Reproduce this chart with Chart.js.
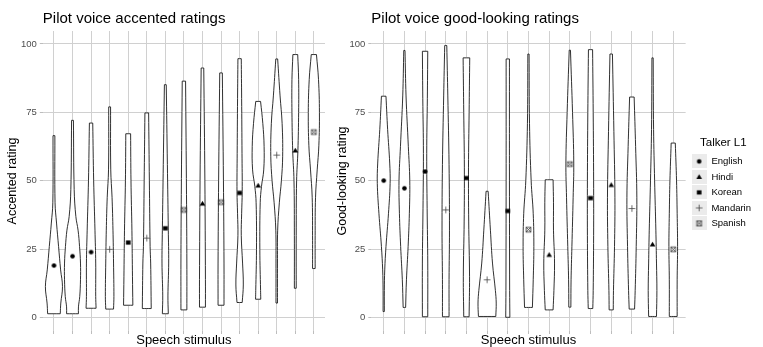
<!DOCTYPE html>
<html>
<head>
<meta charset="utf-8">
<script src="https://cdn.jsdelivr.net/npm/chart.js@4.4.1/dist/chart.umd.min.js"></script>
<style>
  html, body { margin: 0; padding: 0; background: #fff; }
  #wrap { position: relative; width: 763px; height: 347px; overflow: hidden; background: #fff; }
  canvas { position: absolute; top: 0; }
  #accentedChart { left: 0; }
  #goodLookingChart { left: 330px; }
</style>
</head>
<body>
<div id="wrap">
  <canvas id="accentedChart" width="330" height="347"></canvas>
  <canvas id="goodLookingChart" width="433" height="347"></canvas>
</div>
<script>
// Speech stimuli (x positions), rating ticks and talker groups
const stimulusPositions = [1, 2, 3, 4, 5, 6, 7, 8, 9, 10, 11, 12, 13, 14, 15];
const ratingTicks = [0, 25, 50, 75, 100];
const talkerL1 = ['English', 'Hindi', 'Korean', 'Mandarin', 'Spanish'];

// Accented ratings: mean per stimulus, talker L1, violin profile [rating, half width]
const accentedMeans = [19.1, 22.5, 24.0, 25.0, 27.5, 29.1, 32.7, 39.4, 41.7, 42.2, 45.6, 48.3, 59.4, 61.1, 67.8];
const accentedTalkers = ['English', 'English', 'English', 'Mandarin', 'Korean', 'Mandarin', 'Korean', 'Spanish',
    'Hindi', 'Spanish', 'Korean', 'Hindi', 'Mandarin', 'Hindi', 'Spanish'];
const accentedProfiles = [
    [[66.5, .05], [42, .06], [34.6, .14], [26, .25], [17.5, .36], [11.4, .46], [5.4, .37], [1.5, .34]],
    [[72.1, .05], [46.8, .09], [37, .18], [32, .3], [26, .38], [20, .43], [13.9, .43], [7.8, .39], [4, .32], [1.5, .32]],
    [[71.1, .09], [50, .14], [32, .21], [20, .25], [7.8, .25], [3.5, .27]],
    [[77, .05], [54, .06], [44, .13], [32, .18], [20, .21], [7.8, .23], [3.2, .21]],
    [[67.2, .13], [50, .15], [32, .2], [15, .23], [4.6, .25]],
    [[74.8, .1], [50, .14], [26, .18], [20, .21], [3.4, .24]],
    [[85.1, .05], [56, .11], [32, .16], [20, .18], [8, .14], [1.5, .16]],
    [[86.4, .09], [45, .14], [20, .16], [2.9, .16]],
    [[91.2, .07], [50, .13], [14, .16], [3.9, .16]],
    [[89.4, .07], [50, .13], [20, .16], [4.6, .16]],
    [[94.6, .09], [80, .11], [60, .13], [46, .14], [38, .11], [30, .09], [20, .16], [12, .2], [5.6, .14]],
    [[79, .13], [71, .25], [62.6, .32], [54, .3], [48, .18], [42, .11], [25, .09], [10, .13], [6.8, .14]],
    [[94.5, .05], [81, .18], [71, .29], [59, .32], [50, .25], [42, .14], [32, .05], [20, .04], [5.4, .04]],
    [[96.1, .13], [87, .18], [75, .18], [61, .14], [50, .07], [30, .05], [10.8, .05]],
    [[96.1, .14], [87, .25], [75, .3], [63, .27], [54, .18], [44, .09], [30, .07], [18, .07]]
];

// Good-looking ratings
const goodMeans = [50.1, 47.3, 53.4, 39.4, 51.0, 13.9, 39.0, 32.2, 23.0, 56.1, 43.7, 48.5, 39.9, 26.8, 25.0];
const goodTalkers = ['English', 'English', 'English', 'Mandarin', 'Korean', 'Mandarin', 'Korean', 'Spanish',
    'Hindi', 'Spanish', 'Korean', 'Hindi', 'Mandarin', 'Hindi', 'Spanish'];
const goodProfiles = [
    [[80.9, .11], [68.7, .19], [56.5, .29], [49, .31], [38, .23], [26, .11], [17.5, .05], [10, .03], [2.3, .03]],
    [[97.6, .03], [81, .08], [62.6, .19], [50, .26], [38, .24], [26, .18], [13.9, .1], [3.8, .06]],
    [[97.3, .13], [80, .11], [60, .08], [40, .1], [20, .13], [0.4, .13]],
    [[99.4, .05], [81, .1], [56, .16], [32, .18], [14, .16], [0.4, .16]],
    [[94.9, .16], [75, .13], [55, .1], [35, .11], [15, .15], [0.4, .13]],
    [[46.2, .05], [32, .16], [20, .26], [10, .4], [5.4, .44], [0.5, .42]],
    [[94.5, .08], [50, .08], [10, .09], [0.2, .1]],
    [[96.3, .03], [71, .05], [50, .13], [38, .23], [26, .26], [13.9, .23], [3.8, .19]],
    [[50.4, .19], [42, .21], [32, .21], [20, .26], [10, .23], [2.9, .19]],
    [[97.7, .03], [75, .13], [56.5, .19], [44, .16], [26, .1], [13.9, .06], [3.9, .05]],
    [[97.9, .1], [75, .13], [50, .15], [30, .15], [10, .13], [3.4, .11]],
    [[96.3, .06], [68, .13], [44, .18], [26, .16], [10, .11], [2.9, .1]],
    [[80.6, .11], [62.6, .18], [44, .24], [26, .21], [10, .16], [3.2, .13]],
    [[94.9, .03], [68.7, .05], [50, .1], [32, .16], [20, .19], [10, .21], [0.5, .19]],
    [[63.8, .1], [50, .16], [38, .19], [26, .21], [13.9, .19], [0.5, .19]]
];

Chart.defaults.font.family = '"Liberation Sans", Arial, sans-serif';

// marker glyphs (ggplot shapes 16, 17, 15, 3, 7)
function markerIcon(talker, w, h, bg) {
    const c = document.createElement('canvas');
    c.width = w;
    c.height = h;
    const g = c.getContext('2d');
    if (bg) {
        g.fillStyle = bg;
        g.fillRect(0, 0, w, h);
    }
    const cx = w / 2, cy = h / 2;
    g.fillStyle = '#000';
    if (talker === 'English') {
        g.beginPath();
        g.arc(cx, cy, 2.3, 0, Math.PI * 2);
        g.fill();
    } else if (talker === 'Hindi') {
        g.beginPath();
        g.moveTo(cx, cy - 2.7);
        g.lineTo(cx + 2.8, cy + 2);
        g.lineTo(cx - 2.8, cy + 2);
        g.closePath();
        g.fill();
    } else if (talker === 'Korean') {
        g.fillRect(cx - 2.3, cy - 2.1, 4.6, 4.2);
    } else if (talker === 'Mandarin') {
        g.strokeStyle = '#444';
        g.lineWidth = 0.8;
        g.beginPath();
        g.moveTo(cx - 3.3, cy); g.lineTo(cx + 3.3, cy);
        g.moveTo(cx, cy - 3.3); g.lineTo(cx, cy + 3.3);
        g.stroke();
    } else {
        g.strokeStyle = '#333';
        g.lineWidth = 0.8;
        g.strokeRect(cx - 2.4, cy - 2.4, 4.8, 4.8);
        g.beginPath();
        g.moveTo(cx - 2.4, cy - 2.4); g.lineTo(cx + 2.4, cy + 2.4);
        g.moveTo(cx + 2.4, cy - 2.4); g.lineTo(cx - 2.4, cy + 2.4);
        g.stroke();
    }
    return c;
}

const pointIcons = talkerL1.map(t => markerIcon(t, 9, 9));
const legendIcons = talkerL1.map(t => markerIcon(t, 15, 14, '#ebebeb'));

// closed outline; the four corners are repeated so the flat ends stay flat
function violinPoints(pos, profile) {
    const last = profile.length - 1;
    const pts = [];
    const add = (x, y, twice) => {
        pts.push({x, y});
        if (twice) pts.push({x, y});
    };
    add(pos - profile[0][1], profile[0][0], true);
    profile.forEach(([v, w], k) => add(pos + w, v, k === 0 || k === last));
    for (let k = last; k >= 0; k--) {
        add(pos - profile[k][1], profile[k][0], k === last);
    }
    return pts;
}

function buildDatasets(means, talkers, profiles) {
    const sets = talkerL1.map((t, i) => ({
        label: t,
        data: stimulusPositions
            .filter((p, k) => talkers[k] === t)
            .map(p => ({x: p, y: means[p - 1]})),
        pointStyle: pointIcons[i],
        pointRadius: 3,
        showLine: false,
        order: 0
    }));
    profiles.forEach((prof, k) => {
        sets.push({
            label: 'violin' + stimulusPositions[k],
            data: violinPoints(stimulusPositions[k], prof),
            showLine: true,
            fill: 'shape',
            backgroundColor: '#fff',
            borderColor: '#1a1a1a',
            borderWidth: 0.9,
            pointRadius: 0,
            tension: 0.4,
            order: 1
        });
    });
    return sets;
}

const gridStyle = {color: '#d0d0d0', lineWidth: 1, tickLength: 3, tickColor: '#bdbdbd'};

function panelOptions(title, yTitle, axisWidth, padRight, showLegend) {
    return {
        responsive: false,
        animation: false,
        events: [],
        layout: {padding: {left: 0, right: padRight, top: 0, bottom: 0}},
        scales: {
            x: {
                type: 'linear',
                min: 0.4,
                max: 15.6,
                afterBuildTicks: s => { s.ticks = stimulusPositions.map(v => ({value: v})); },
                ticks: {display: false},
                grid: gridStyle,
                border: {display: false},
                title: {display: true, text: 'Speech stimulus', color: '#000', font: {size: 13, lineHeight: 1}, padding: 0}
            },
            y: {
                type: 'linear',
                min: -4.8,
                max: 104.7,
                afterBuildTicks: s => { s.ticks = ratingTicks.map(v => ({value: v})); },
                ticks: {color: '#4d4d4d', font: {size: 9.5}, padding: 3},
                grid: gridStyle,
                border: {display: false},
                title: {display: true, text: yTitle, color: '#000', font: {size: 12.5}, padding: {top: 5.5, bottom: 0}},
                afterFit: s => { s.width = axisWidth; }
            }
        },
        plugins: {
            title: {
                display: true,
                text: title,
                align: 'start',
                fullSize: false,
                color: '#000',
                font: {size: 15, weight: 'normal'},
                padding: {top: 10, bottom: 3}
            },
            legend: {
                display: showLegend,
                position: 'right',
                fullSize: false,
                align: 'center',
                title: {display: true, text: 'Talker L1', color: '#000', position: 'center',
                    font: {size: 11.5}, padding: {top: 9, bottom: 0}},
                labels: {
                    usePointStyle: true,
                    pointStyleWidth: 15,
                    color: '#000',
                    font: {size: 9.5},
                    padding: 6,
                    generateLabels: () => talkerL1.map((t, i) => ({
                        text: t,
                        pointStyle: legendIcons[i],
                        fillStyle: '#ebebeb',
                        strokeStyle: 'rgba(0,0,0,0)',
                        lineWidth: 0,
                        hidden: false,
                        datasetIndex: i
                    }))
                }
            },
            tooltip: {enabled: false}
        }
    };
}

new Chart(document.getElementById('accentedChart'), {
    type: 'scatter',
    data: {datasets: buildDatasets(accentedMeans, accentedTalkers, accentedProfiles)},
    options: panelOptions('Pilot voice accented ratings', 'Accented rating', 42.8, 4, false)
});

new Chart(document.getElementById('goodLookingChart'), {
    type: 'scatter',
    data: {datasets: buildDatasets(goodMeans, goodTalkers, goodProfiles)},
    options: panelOptions('Pilot voice good-looking ratings', 'Good-looking rating', 41.3, 2, true)
});
</script>
</body>
</html>
